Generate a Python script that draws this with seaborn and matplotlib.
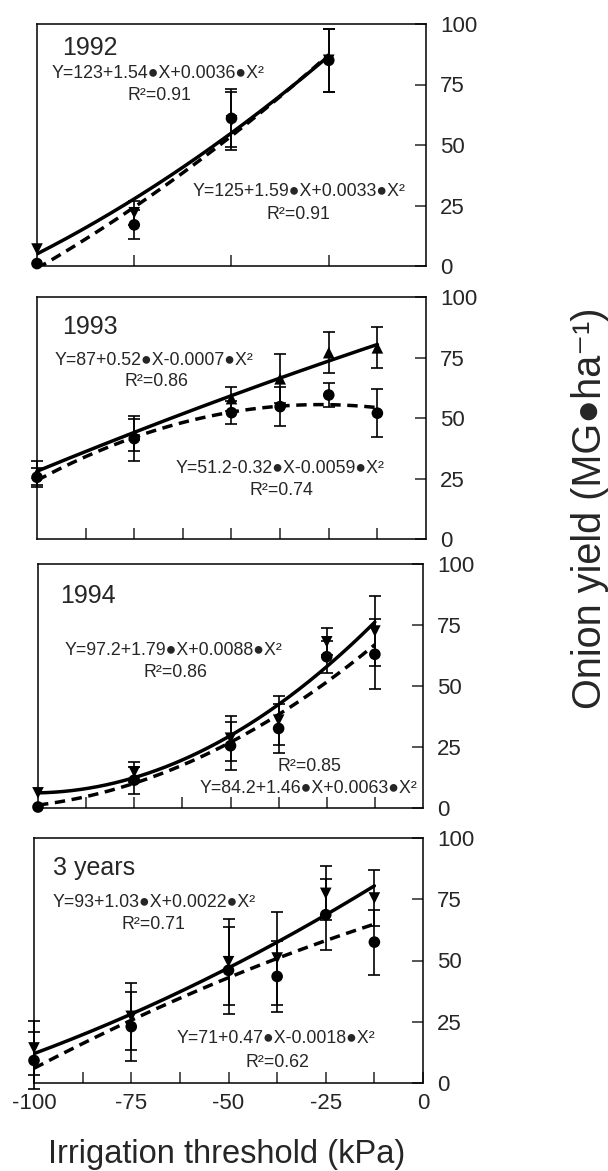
import numpy as np
import pandas as pd
import matplotlib
matplotlib.use("Agg")
import matplotlib.pyplot as plt
import seaborn as sns

# ---------------- data ----------------
x_1992 = [-100, -75, -50, -25]
x_all = [-100, -75, -50, -37.5, -25, -12.5]

tri_1992 = [7, 22, 60, 85]
tri_sd_1992 = [0, 5, 12, 13]
cir_1992 = [1, 17, 61, 85]
cir_sd_1992 = [0, 6, 12, 13]

tri_1993 = [27.2, 43, 58, 66.2, 77, 79]
tri_sd_1993 = [5, 6.5, 5, 10.2, 8.6, 8.5]
cir_1993 = [25.5, 41.5, 52.2, 54.7, 59.5, 52]
cir_sd_1993 = [4, 9.3, 4.8, 8, 5, 10]

tri_1994 = [6.2, 14.8, 28.6, 36, 68.1, 72.5]
tri_sd_1994 = [0, 4, 9.3, 10, 5.5, 14.3]
cir_1994 = [0.4, 11.4, 25.5, 32.6, 62, 63]
cir_sd_1994 = [0, 5.5, 9.8, 10, 6.5, 14.3]

tri_3y = [14.3, 27.2, 49.5, 51, 77.4, 75.5]
tri_sd_3y = [11, 13.6, 17.6, 19, 11, 11.3]
cir_3y = [9.2, 23, 46, 43.5, 68.7, 57.5]
cir_sd_3y = [11.6, 14.2, 17.8, 14.5, 14.5, 13.3]

# regression coefficients (a, b, c) for Y = a + b*X + c*X^2, as printed
solid_coef = {"1992": (123, 1.54, 0.0036), "1993": (87, 0.52, -0.0007),
              "1994": (97.2, 1.79, 0.0088), "3 years": (93, 1.03, 0.0022)}
dashed_coef = {"1992": (125, 1.59, 0.0033), "1993": (51.2, -0.32, -0.0059),
               "1994": (84.2, 1.46, 0.0063), "3 years": (71, 0.47, -0.0018)}

B = "\u25cf"
eq_solid = {"1992": f"Y=123+1.54{B}X+0.0036{B}X\u00b2",
            "1993": f"Y=87+0.52{B}X-0.0007{B}X\u00b2",
            "1994": f"Y=97.2+1.79{B}X+0.0088{B}X\u00b2",
            "3 years": f"Y=93+1.03{B}X+0.0022{B}X\u00b2"}
r2_solid = {"1992": "R\u00b2=0.91", "1993": "R\u00b2=0.86", "1994": "R\u00b2=0.86", "3 years": "R\u00b2=0.71"}
eq_dashed = {"1992": f"Y=125+1.59{B}X+0.0033{B}X\u00b2",
             "1993": f"Y=51.2-0.32{B}X-0.0059{B}X\u00b2",
             "1994": f"Y=84.2+1.46{B}X+0.0063{B}X\u00b2",
             "3 years": f"Y=71+0.47{B}X-0.0018{B}X\u00b2"}
r2_dashed = {"1992": "R\u00b2=0.91", "1993": "R\u00b2=0.74", "1994": "R\u00b2=0.85", "3 years": "R\u00b2=0.62"}

x_ticklabels = ["-100", "-75", "-50", "-25", "0"]
y_ticks = [0, 25, 50, 75, 100]

panels = [
    ("1992", x_1992, tri_1992, tri_sd_1992, cir_1992, cir_sd_1992, "v"),
    ("1993", x_all, tri_1993, tri_sd_1993, cir_1993, cir_sd_1993, "^"),
    ("1994", x_all, tri_1994, tri_sd_1994, cir_1994, cir_sd_1994, "v"),
    ("3 years", x_all, tri_3y, tri_sd_3y, cir_3y, cir_sd_3y, "v"),
]

# ---------------- layout / style ----------------
sns.set_style("ticks")
FAM = ["Liberation Sans", "DejaVu Sans"]
plt.rcParams["font.family"] = FAM
plt.rcParams["axes.linewidth"] = 1.1

W, H = 608, 1171
fig = plt.figure(figsize=(W / 100, H / 100), dpi=100)

# pixel boxes: left, right, top, bottom
boxes = [(37, 426, 24, 266), (37, 426, 297, 539), (38, 423, 564, 808), (34, 423, 838, 1083)]

title_pos = {"1992": (-93.6, 87.2), "1993": (-93.5, 84.6), "1994": (-94.2, 84), "3 years": (-95, 84.9)}
eqs_pos = {"1992": (-68.8, 77.7), "1993": (-69.8, 71.9), "1994": (-64.7, 62.7), "3 years": (-69.2, 72)}
r2s_pos = {"1992": (-68.5, 68.6), "1993": (-69.4, 63.2), "1994": (-64.2, 53.8), "3 years": (-69.4, 62.8)}
eqd_pos = {"1992": (-32.7, 28.9), "1993": (-37.6, 27.4), "1994": (-29.7, 6.0), "3 years": (-37.9, 16.3)}
r2d_pos = {"1992": (-32.7, 19.4), "1993": (-37.1, 18.2), "1994": (-29.4, 15.3), "3 years": (-37.3, 6.7)}

EQ_FS = 12.8

for i, (name, xs, tri, tsd, cir, csd, tmark) in enumerate(panels):
    l, r, t, b = boxes[i]
    ax = fig.add_axes([l / W, 1 - b / H, (r - l) / W, (b - t) / H])

    # fitted curves from the printed equations
    xc = np.linspace(-100, max(xs), 200)
    a, bb, c = solid_coef[name]
    df_s = pd.DataFrame({"x": xc, "y": a + bb * xc + c * xc ** 2})
    a, bb, c = dashed_coef[name]
    df_d = pd.DataFrame({"x": xc, "y": a + bb * xc + c * xc ** 2})
    sns.lineplot(data=df_s, x="x", y="y", ax=ax, color="black", lw=2.5, sort=False, zorder=3)
    sns.lineplot(data=df_d, x="x", y="y", ax=ax, color="black", lw=2.5, sort=False,
                 linestyle=(0, (3.0, 1.9)), zorder=3)

    # error bars (only where an error exists)
    for ys, sds in ((tri, tsd), (cir, csd)):
        ex = [xv for xv, s in zip(xs, sds) if s > 0]
        ey = [yv for yv, s in zip(ys, sds) if s > 0]
        es = [s for s in sds if s > 0]
        ax.errorbar(ex, ey, yerr=es, fmt="none", ecolor="black", elinewidth=1.2,
                    capsize=4.5, capthick=1.2, zorder=4, clip_on=False)

    # points
    pts = pd.DataFrame({"x": list(xs) + list(xs), "y": list(tri) + list(cir),
                        "kind": ["tri"] * len(xs) + ["cir"] * len(xs)})
    sns.scatterplot(data=pts, x="x", y="y", style="kind", markers={"tri": tmark, "cir": "o"},
                    color="black", s=70, edgecolor="black", linewidth=0, ax=ax,
                    legend=False, zorder=5, clip_on=False)

    ax.set_xlim(-100, 0)
    ax.set_ylim(0, 100)
    ax.set_xlabel("")
    ax.set_ylabel("")

    if i == 0:
        ax.set_xticks([-75, -50, -25])
    else:
        ax.set_xticks([-87.5, -75, -62.5, -50, -37.5, -25, -12.5])
    ax.tick_params(axis="x", direction="in", length=8, width=1.1, top=False)
    if i == 3:
        ax.set_xticks([-100, -75, -50, -25, 0])
        ax.set_xticklabels(x_ticklabels, fontsize=16)
        ax.set_xticks([-87.5, -62.5, -37.5, -12.5], minor=True)
        ax.tick_params(axis="x", which="minor", direction="in", length=8, width=1.1)
        ax.tick_params(axis="x", which="major", pad=7)
    else:
        ax.set_xticklabels([])

    ax.yaxis.tick_right()
    ax.set_yticks(y_ticks)
    ax.set_yticklabels([str(v) for v in y_ticks], fontsize=16)
    ax.tick_params(axis="y", direction="in", length=8, width=1.1, pad=10, left=False, right=True)
    for sp in ax.spines.values():
        sp.set_visible(True)
        sp.set_linewidth(1.1)
        sp.set_color("black")

    ax.text(*title_pos[name], name, fontsize=18, ha="left", va="baseline", family=FAM)
    ax.text(*eqs_pos[name], eq_solid[name], fontsize=EQ_FS, ha="center", va="baseline", family=FAM)
    ax.text(*r2s_pos[name], r2_solid[name], fontsize=EQ_FS, ha="center", va="baseline", family=FAM)
    ax.text(*eqd_pos[name], eq_dashed[name], fontsize=EQ_FS, ha="center", va="baseline", family=FAM)
    ax.text(*r2d_pos[name], r2_dashed[name], fontsize=EQ_FS, ha="center", va="baseline", family=FAM)

fig.text(227 / W, 1 - 1155 / H, "Irrigation threshold (kPa)", fontsize=23.5, ha="center",
         va="center", family=FAM)
fig.text(590 / W, 1 - 508 / H, f"Onion yield (MG{B}ha\u207b\u00b9)", fontsize=28.5, ha="center",
         va="center", rotation=90, family=FAM)

fig.savefig("out.png", dpi=100)
